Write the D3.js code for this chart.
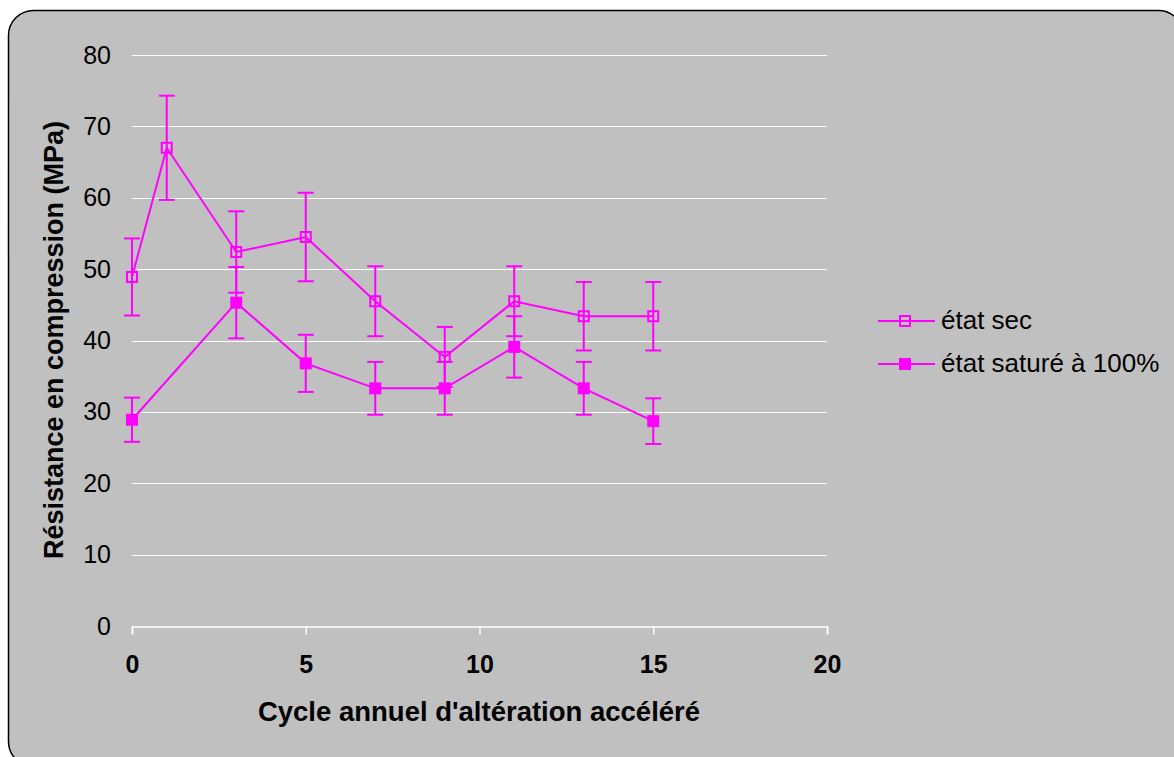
<!DOCTYPE html>
<html>
<head>
<meta charset="utf-8">
<script src="https://cdn.jsdelivr.net/npm/d3@7"></script>
<style>
  body { margin: 0; background: #ffffff; overflow: hidden; }
  text { font-family: "Liberation Sans", Arial, sans-serif; }
</style>
</head>
<body>
<div id="chart-container"></div>
<script>
const width = 1174;
const height = 757;

// plot area
const marginLeft = 132;
const marginRight = 1174 - 827;
const marginTop = 55;
const marginBottom = 757 - 626;

// data
const xTicks = [0, 5, 10, 15, 20];
const yTicks = [0, 10, 20, 30, 40, 50, 60, 70, 80];

const secCycles = [0, 1, 3, 5, 7, 9, 11, 13, 15];
const secValues = [48.9, 67.0, 52.4, 54.5, 45.5, 37.7, 45.5, 43.4, 43.4];
const secErrors = [5.4, 7.3, 5.7, 6.2, 4.9, 4.2, 4.9, 4.8, 4.8];

const satCycles = [0, 3, 5, 7, 9, 11, 13, 15];
const satValues = [28.9, 45.3, 36.8, 33.3, 33.3, 39.1, 33.3, 28.7];
const satErrors = [3.1, 5.0, 4.0, 3.7, 3.7, 4.3, 3.7, 3.2];

const seriesNames = ["état sec", "état saturé à 100%"];
const magenta = "#FF00FF";

const svg = d3.select("#chart-container")
    .append("svg")
    .attr("width", width)
    .attr("height", height);

// chart frame
svg.append("rect")
    .attr("x", 8.5).attr("y", 10.5)
    .attr("width", 1175).attr("height", 756)
    .attr("rx", 25).attr("ry", 25)
    .attr("fill", "#C0C0C0")
    .attr("stroke", "#000000")
    .attr("stroke-width", 1.5);

const x = d3.scaleLinear()
    .domain([0, 20])
    .range([marginLeft, width - marginRight]);

const y = d3.scaleLinear()
    .domain([0, 80])
    .range([height - marginBottom, marginTop]);

// gridlines
svg.append("g")
    .selectAll("line")
    .data(yTicks.filter(d => d > 0))
    .join("line")
    .attr("x1", x(0)).attr("x2", x(20))
    .attr("y1", d => Math.round(y(d)) + 0.5)
    .attr("y2", d => Math.round(y(d)) + 0.5)
    .attr("stroke", "#FFFFFF")
    .attr("stroke-width", 1);

// x axis
const axisY = Math.round(y(0)) + 0.5;
const xAxis = svg.append("g")
    .attr("transform", `translate(0, ${axisY})`)
    .call(d3.axisBottom(x).tickValues(xTicks).tickSize(8));
xAxis.select(".domain").attr("stroke", "#FFFFFF").attr("stroke-width", 1.5);
xAxis.selectAll(".tick line").attr("stroke", "#FFFFFF").attr("stroke-width", 1.5);
xAxis.selectAll(".tick text")
    .attr("y", 673 - axisY)
    .attr("dy", 0)
    .attr("fill", "#000000")
    .attr("font-size", "25px")
    .attr("font-weight", "bold")
    .style("font-family", "Liberation Sans, Arial, sans-serif");

// y axis labels
const yAxis = svg.append("g")
    .attr("transform", `translate(${x(0)}, 0)`)
    .call(d3.axisLeft(y).tickValues(yTicks).tickSize(0).tickPadding(21));
yAxis.select(".domain").remove();
yAxis.selectAll(".tick text")
    .attr("fill", "#000000")
    .attr("font-size", "25px")
    .style("font-family", "Liberation Sans, Arial, sans-serif");

// axis titles
svg.append("text")
    .attr("x", 479).attr("y", 721)
    .attr("text-anchor", "middle")
    .attr("font-size", "27.5px")
    .attr("font-weight", "bold")
    .text("Cycle annuel d'altération accéléré");

svg.append("text")
    .attr("transform", `translate(63, 340) rotate(-90)`)
    .attr("text-anchor", "middle")
    .attr("font-size", "27px")
    .attr("font-weight", "bold")
    .text("Résistance en compression (MPa)");

const line = d3.line().x(d => x(d[0])).y(d => y(d[1]));

function drawSeries(cycles, values, errors, filled) {
    const pts = cycles.map((c, i) => [c, values[i], errors[i]]);
    const g = svg.append("g");

    // error bars
    const eb = g.selectAll(".eb").data(pts).join("g");
    eb.append("line")
        .attr("x1", d => x(d[0])).attr("x2", d => x(d[0]))
        .attr("y1", d => y(d[1] + d[2])).attr("y2", d => y(d[1] - d[2]))
        .attr("stroke", magenta).attr("stroke-width", 2);
    eb.selectAll(".cap")
        .data(d => [[d[0], d[1] + d[2]], [d[0], d[1] - d[2]]])
        .join("line")
        .attr("x1", d => x(d[0]) - 8).attr("x2", d => x(d[0]) + 8)
        .attr("y1", d => y(d[1])).attr("y2", d => y(d[1]))
        .attr("stroke", magenta).attr("stroke-width", 2);

    g.append("path")
        .datum(pts)
        .attr("d", line)
        .attr("fill", "none")
        .attr("stroke", magenta)
        .attr("stroke-width", 2);

    const s = filled ? 12 : 10;
    g.selectAll(".mk").data(pts).join("rect")
        .attr("x", d => x(d[0]) - s / 2)
        .attr("y", d => y(d[1]) - s / 2)
        .attr("width", s).attr("height", s)
        .attr("fill", filled ? magenta : "none")
        .attr("stroke", filled ? "none" : magenta)
        .attr("stroke-width", 2);
}

drawSeries(secCycles, secValues, secErrors, false);
drawSeries(satCycles, satValues, satErrors, true);

// legend
const legend = svg.append("g").attr("transform", "translate(878, 321)");
seriesNames.forEach((name, i) => {
    const row = legend.append("g").attr("transform", `translate(0, ${i * 43})`);
    row.append("line")
        .attr("x1", 0).attr("x2", 57).attr("y1", 0).attr("y2", 0)
        .attr("stroke", magenta).attr("stroke-width", 2);
    const s = i === 1 ? 12 : 10;
    row.append("rect")
        .attr("x", 27 - s / 2).attr("y", -s / 2)
        .attr("width", s).attr("height", s)
        .attr("fill", i === 1 ? magenta : "none")
        .attr("stroke", i === 1 ? "none" : magenta)
        .attr("stroke-width", 2);
    row.append("text")
        .attr("x", 63).attr("y", 8)
        .attr("font-size", "26px")
        .attr("fill", "#000000")
        .text(name);
});
</script>
</body>
</html>
